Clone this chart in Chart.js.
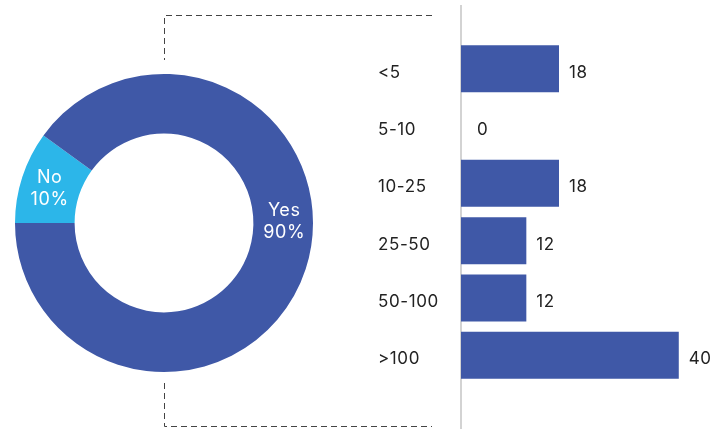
<!DOCTYPE html>
<html>
<head>
<meta charset="utf-8">
<script src="https://cdn.jsdelivr.net/npm/chart.js@4.4.0/dist/chart.umd.min.js"></script>
<style>
    html, body { margin: 0; padding: 0; background: #fff; }
    #quadro { position: relative; width: 716px; height: 429px; }
    #quadro canvas { position: absolute; left: 0; top: 0; }
</style>
</head>
<body>
<div id="quadro">
    <canvas id="barras" width="716" height="429"></canvas>
    <canvas id="rosca" width="716" height="429"></canvas>
</div>
<script>
// respostas (rosca)
const respostas = ["No", "Yes"];
const percentuais = [10, 90];

// faixas (barras)
const faixas = ["<5", "5-10", "10-25", "25-50", "50-100", ">100"];
const contagens = [18, 0, 18, 12, 12, 40];

const AZUL = "#3f58a7";
const CIANO = "#2cb6e9";
const FONTE = "Inter, 'Liberation Sans', sans-serif";

Chart.defaults.font.family = FONTE;

// texto um pouco mais espaçado em todo o canvas
const espacamento = {
    id: "espacamento",
    beforeLayout(chart) { chart.ctx.letterSpacing = "0.6px"; },
    beforeDraw(chart) { chart.ctx.letterSpacing = "0.6px"; }
};

// textos dentro da rosca + colchete tracejado
const rotulosRosca = {
    id: "rotulosRosca",
    afterDraw(chart) {
        const ctx = chart.ctx;
        const arcos = chart.getDatasetMeta(0).data;
        ctx.save();
        ctx.fillStyle = "#fff";
        ctx.font = "18px " + FONTE;
        ctx.letterSpacing = "0.6px";
        ctx.textAlign = "center";
        ctx.textBaseline = "middle";
        arcos.forEach((arco, i) => {
            const p = arco.getProps(["x", "y", "startAngle", "endAngle", "innerRadius", "outerRadius"]);
            const grande = p.endAngle - p.startAngle > Math.PI;
            const ang = grande ? 0 : (p.startAngle + p.endAngle) / 2;
            const r = (p.innerRadius + p.outerRadius) / 2 + 1;
            const x = p.x + Math.cos(ang) * r;
            const y = p.y + Math.sin(ang) * r + (grande ? -1 : 3);
            ctx.fillText(respostas[i], x, y - 11);
            ctx.fillText(percentuais[i] + "%", x, y + 11);
        });

        // colchete ligando a rosca às barras
        const a = arcos[0].getProps(["x", "y", "outerRadius"]);
        const cx = a.x;
        const topo = 15, base = 426, direita = 432;
        ctx.strokeStyle = "#444";
        ctx.lineWidth = 1;
        ctx.setLineDash([6, 4]);
        ctx.beginPath();
        ctx.moveTo(direita, topo + 0.5);
        ctx.lineTo(cx + 0.5, topo + 0.5);
        ctx.lineTo(cx + 0.5, a.y - a.outerRadius - 14);
        ctx.moveTo(cx + 0.5, a.y + a.outerRadius + 11);
        ctx.lineTo(cx + 0.5, base + 0.5);
        ctx.lineTo(direita, base + 0.5);
        ctx.stroke();
        ctx.restore();
    }
};

new Chart(document.getElementById("rosca"), {
    type: "doughnut",
    data: {
        labels: respostas,
        datasets: [{
            data: percentuais,
            backgroundColor: [CIANO, AZUL],
            borderWidth: 0
        }]
    },
    options: {
        responsive: false,
        animation: false,
        rotation: 270,
        cutout: "60%",
        layout: { padding: { left: 15, top: 74, right: 403, bottom: 57 } },
        plugins: {
            legend: { display: false },
            tooltip: { enabled: false }
        }
    },
    plugins: [rotulosRosca]
});

// linha vertical do eixo, mais longa que a área do gráfico
const linhaEixo = {
    id: "linhaEixo",
    beforeDatasetsDraw(chart) {
        const ctx = chart.ctx;
        const x = chart.scales.x.getPixelForValue(0);
        ctx.save();
        ctx.strokeStyle = "#c4c4c4";
        ctx.lineWidth = 1.5;
        ctx.beginPath();
        ctx.moveTo(x, 5);
        ctx.lineTo(x, chart.height);
        ctx.stroke();
        ctx.restore();
    }
};

// valor ao lado de cada barra
const valoresBarras = {
    id: "valoresBarras",
    afterDatasetsDraw(chart) {
        const ctx = chart.ctx;
        ctx.save();
        ctx.fillStyle = "#222";
        ctx.font = "17px " + FONTE;
        ctx.letterSpacing = "0.6px";
        ctx.textAlign = "left";
        ctx.textBaseline = "middle";
        chart.getDatasetMeta(0).data.forEach((barra, i) => {
            const extra = contagens[i] === 0 ? 16 : 10;
            ctx.fillText(String(contagens[i]), barra.x + extra, barra.y + 4);
        });
        ctx.restore();
    }
};

new Chart(document.getElementById("barras"), {
    type: "bar",
    data: {
        labels: faixas,
        datasets: [{
            data: contagens,
            backgroundColor: AZUL,
            barPercentage: 0.82,
            categoryPercentage: 1
        }]
    },
    options: {
        indexAxis: "y",
        responsive: false,
        animation: false,
        layout: { padding: { left: 378, right: 10, top: 40, bottom: 45 } },
        plugins: {
            legend: { display: false },
            tooltip: { enabled: false }
        },
        scales: {
            x: { display: false, min: 0, max: 45 },
            y: {
                grid: { display: false },
                border: { display: false },
                ticks: {
                    crossAlign: "far",
                    labelOffset: 4,
                    padding: 0,
                    color: "#222",
                    font: { size: 17 }
                },
                afterFit(escala) { escala.width = 83; }
            }
        }
    },
    plugins: [espacamento, linhaEixo, valoresBarras]
});
</script>
</body>
</html>
